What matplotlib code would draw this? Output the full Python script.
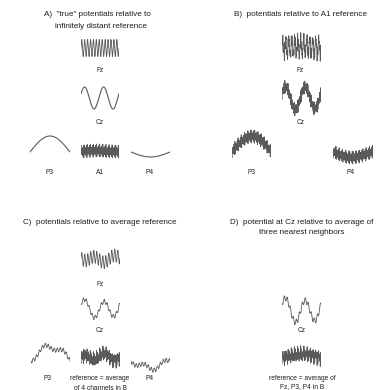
import numpy as np
import matplotlib
matplotlib.use("Agg")
import matplotlib.pyplot as plt

plt.rcParams['font.family'] = ['Liberation Sans', 'DejaVu Sans']

# ---- "true" potentials: sinusoidal components (cycles over the epoch, amplitude, phase)
fz_cycles, fz_amp, fz_phase = 13, 8.5, 0.0
cz_cycles, cz_amp, cz_phase = 2, 11.0, 0.4
p3_cycles, p3_amp = 0.5, 16.0
p4_cycles, p4_amp = 0.5, -5.0
a1_cycles = [37, 49, 61, 73]
a1_amps = [3.0, 2.5, 2.0, 1.5]
a1_phases = [0.0, 1.1, 2.3, 0.7]

n_samples = 800
t = np.linspace(0, 1, n_samples)

Fz = fz_amp * np.sin(2 * np.pi * fz_cycles * t + fz_phase)
Cz = cz_amp * np.sin(2 * np.pi * cz_cycles * t + cz_phase)
P3 = p3_amp * np.sin(2 * np.pi * p3_cycles * t)
P4 = p4_amp * np.sin(2 * np.pi * p4_cycles * t)
A1 = sum(a * np.sin(2 * np.pi * c * t + p) for c, a, p in zip(a1_cycles, a1_amps, a1_phases))

# B: relative to A1
FzB, CzB, P3B, P4B = Fz - A1, Cz - A1, P3 - A1, P4 - A1
# C: average reference of the 4 channels in B
avgB = (FzB + CzB + P3B + P4B) / 4
FzC, CzC, P3C, P4C = FzB - avgB, CzB - avgB, P3B - avgB, P4B - avgB
# D: Cz relative to the average of its three neighbours in B
nbrB = (FzB + P3B + P4B) / 3
CzD = CzB - nbrB

W, H = 382, 390
fig = plt.figure(figsize=(W / 100, H / 100), dpi=100)
fig.patch.set_facecolor('white')

LINE = '#5a5a5a'
TXT = '#1e1e1e'

def wave(sig, x0, x1, yc, h=60, lw=0.6):
    ax = fig.add_axes([x0 / W, 1 - (yc + h / 2) / H, (x1 - x0) / W, h / H])
    ax.plot(t, sig, color=LINE, lw=lw)
    ax.set_xlim(0, 1)
    ax.set_ylim(-h / 2, h / 2)
    ax.axis('off')
    ax.patch.set_alpha(0)

def label(s, x, y, size=4.8):
    fig.text(x / W, 1 - y / H, s, ha='center', va='center', fontsize=size, color=TXT)

def title(s, x, y):
    fig.text(x / W, 1 - y / H, s, ha='center', va='center', fontsize=5.9, color=TXT)

# ---- Panel A
title('A)  "true" potentials relative to', 97, 15)
title('infinitely distant reference', 101, 26)
wave(Fz, 81, 119, 48)
label('Fz', 100, 70)
wave(Cz, 81, 119, 98, lw=0.8)
label('Cz', 100, 122)
wave(P3, 30, 70, 152, lw=0.8)
wave(A1, 81, 119, 151)
wave(P4, 131, 170, 152, lw=0.8)
label('P3', 49, 173)
label('A1', 100, 173)
label('P4', 150, 173)

# ---- Panel B
title('B)  potentials relative to A1 reference', 301, 15)
wave(FzB, 282, 321, 47)
label('Fz', 300, 70)
wave(CzB, 282, 321, 98)
label('Cz', 301, 122)
wave(P3B, 232, 271, 152)
wave(P4B, 333, 373, 152)
label('P3', 251, 173)
label('P4', 351, 173)

# ---- Panel C
title('C)  potentials relative to average reference', 100, 222)
wave(FzC, 81, 120, 257)
label('Fz', 100, 284)
wave(CzC, 81, 120, 307)
label('Cz', 100, 330)
wave(P3C, 31, 70, 360)
wave(avgB, 81, 120, 359)
wave(P4C, 131, 170, 360)
label('P3', 48, 379)
label('reference = average', 100, 379)
label('of 4 channels in B', 100, 388)
label('P4', 150, 379)

# ---- Panel D
title('D)  potential at Cz relative to average of', 302, 222)
title('three nearest neighbors', 302, 233)
wave(CzD, 282, 321, 308)
label('Cz', 302, 330)
wave(nbrB, 282, 321, 358)
label('reference = average of', 302, 378)
label('Fz, P3, P4 in B', 302, 387)

fig.savefig('out.png', dpi=100, facecolor='white')
